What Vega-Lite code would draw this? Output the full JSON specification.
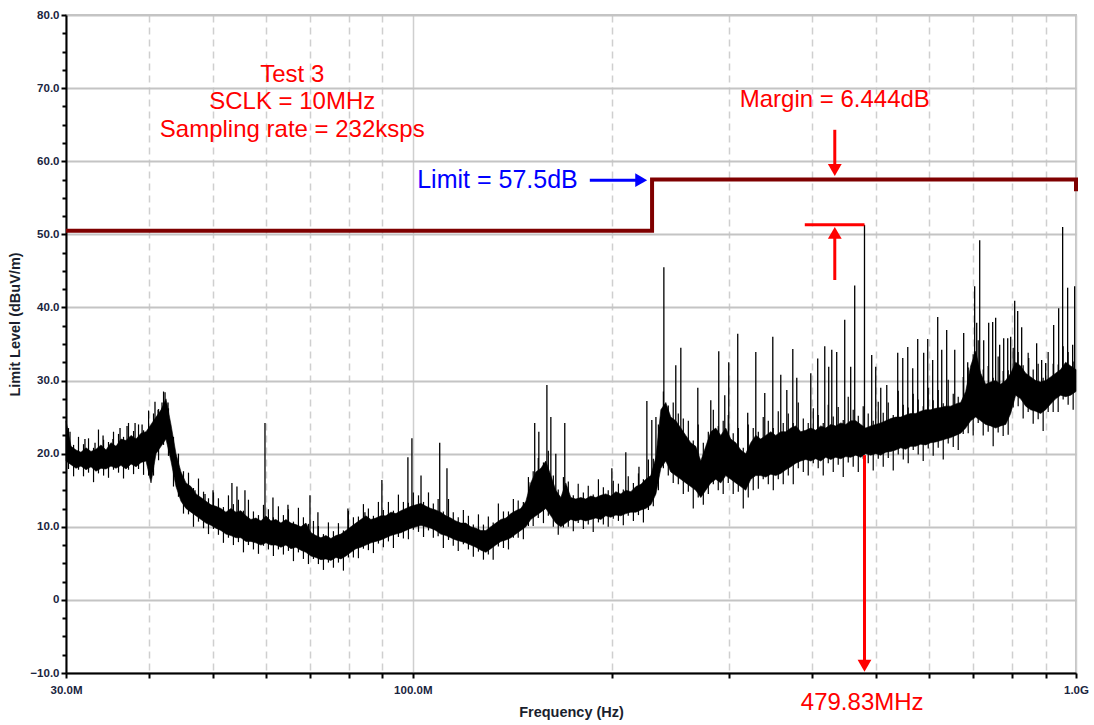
{
  "$schema": "https://vega.github.io/schema/vega-lite/v6.json",
  "width": 1010,
  "height": 658,
  "autosize": {"type": "none"},
  "padding": {"left": 66, "top": 15, "right": 18, "bottom": 52},
  "background": "#FFFFFF",
  "config": {
    "view": {"stroke": "#C4C4C4", "strokeWidth": 2},
    "font": "Liberation Sans"
  },
  "datasets": {
    "band": [
      {"f":30.00,"lo":19.0,"hi":24.5},{"f":30.53,"lo":18.5,"hi":21.0},{"f":31.06,"lo":18.0,"hi":20.5},{"f":31.60,"lo":18.3,"hi":20.2},{"f":32.16,"lo":17.8,"hi":20.8},
      {"f":32.72,"lo":18.2,"hi":20.3},{"f":33.29,"lo":17.6,"hi":20.6},{"f":33.88,"lo":18.0,"hi":21.2},{"f":34.47,"lo":17.9,"hi":20.5},{"f":35.07,"lo":18.3,"hi":21.5},
      {"f":35.69,"lo":18.0,"hi":21.0},{"f":36.31,"lo":18.4,"hi":22.0},{"f":36.95,"lo":17.9,"hi":21.8},{"f":37.60,"lo":18.6,"hi":22.5},{"f":38.26,"lo":18.2,"hi":22.0},
      {"f":38.93,"lo":18.8,"hi":22.8},{"f":39.61,"lo":19.0,"hi":23.0},{"f":40.30,"lo":16.0,"hi":24.0},{"f":41.01,"lo":20.0,"hi":25.0},{"f":41.73,"lo":21.0,"hi":26.0},
      {"f":42.45,"lo":22.0,"hi":27.5},{"f":43.19,"lo":19.0,"hi":24.0},{"f":43.95,"lo":15.5,"hi":20.0},{"f":44.72,"lo":13.5,"hi":17.5},{"f":45.50,"lo":12.5,"hi":16.0},
      {"f":46.30,"lo":12.0,"hi":15.5},{"f":47.11,"lo":11.5,"hi":14.5},{"f":47.94,"lo":11.0,"hi":14.0},{"f":48.77,"lo":10.5,"hi":13.5},{"f":49.63,"lo":10.2,"hi":13.0},
      {"f":50.49,"lo":9.8,"hi":12.8},{"f":51.37,"lo":9.5,"hi":12.5},{"f":52.27,"lo":9.0,"hi":12.0},{"f":53.19,"lo":8.8,"hi":12.5},{"f":54.12,"lo":8.5,"hi":12.0},
      {"f":55.07,"lo":8.5,"hi":12.2},{"f":56.03,"lo":8.0,"hi":11.5},{"f":57.01,"lo":8.0,"hi":11.0},{"f":58.01,"lo":7.8,"hi":11.2},{"f":59.03,"lo":7.5,"hi":10.8},
      {"f":60.06,"lo":7.8,"hi":11.5},{"f":61.11,"lo":7.5,"hi":10.8},{"f":62.18,"lo":7.5,"hi":11.0},{"f":63.27,"lo":7.2,"hi":10.5},{"f":64.38,"lo":7.5,"hi":11.0},
      {"f":65.51,"lo":7.0,"hi":10.5},{"f":66.65,"lo":7.2,"hi":10.3},{"f":67.82,"lo":6.8,"hi":10.0},{"f":69.01,"lo":6.5,"hi":10.5},{"f":70.22,"lo":6.0,"hi":9.2},
      {"f":71.44,"lo":5.8,"hi":8.8},{"f":72.69,"lo":5.5,"hi":8.5},{"f":73.96,"lo":5.6,"hi":8.8},{"f":75.26,"lo":5.4,"hi":8.4},{"f":76.58,"lo":5.8,"hi":8.8},
      {"f":77.92,"lo":5.6,"hi":9.0},{"f":79.28,"lo":6.0,"hi":9.5},{"f":80.67,"lo":6.5,"hi":10.0},{"f":82.08,"lo":7.0,"hi":10.5},{"f":83.52,"lo":7.2,"hi":11.0},
      {"f":84.98,"lo":7.5,"hi":11.5},{"f":86.47,"lo":7.8,"hi":11.0},{"f":87.98,"lo":8.0,"hi":11.2},{"f":89.52,"lo":8.2,"hi":11.5},{"f":91.09,"lo":8.5,"hi":11.5},
      {"f":92.69,"lo":8.8,"hi":12.0},{"f":94.31,"lo":9.0,"hi":11.8},{"f":95.96,"lo":9.2,"hi":12.2},{"f":97.64,"lo":9.5,"hi":12.5},{"f":99.35,"lo":9.8,"hi":12.8},
      {"f":101.1,"lo":10.0,"hi":13.0},{"f":102.9,"lo":10.2,"hi":13.2},{"f":104.7,"lo":10.0,"hi":12.8},{"f":106.5,"lo":9.8,"hi":12.5},{"f":108.3,"lo":9.5,"hi":12.3},
      {"f":110.2,"lo":9.0,"hi":12.0},{"f":112.2,"lo":8.8,"hi":11.5},{"f":114.1,"lo":8.5,"hi":11.2},{"f":116.1,"lo":8.2,"hi":10.8},{"f":118.2,"lo":8.0,"hi":10.5},
      {"f":120.2,"lo":7.8,"hi":10.5},{"f":122.3,"lo":7.5,"hi":10.0},{"f":124.5,"lo":7.2,"hi":9.8},{"f":126.7,"lo":6.8,"hi":9.5},{"f":128.9,"lo":6.5,"hi":9.5},
      {"f":131.1,"lo":7.0,"hi":10.0},{"f":133.4,"lo":7.5,"hi":10.5},{"f":135.8,"lo":8.0,"hi":11.0},{"f":138.2,"lo":8.2,"hi":11.2},{"f":140.6,"lo":8.5,"hi":11.8},
      {"f":143.0,"lo":9.0,"hi":12.2},{"f":145.5,"lo":9.5,"hi":12.5},{"f":148.1,"lo":10.0,"hi":13.5},{"f":150.6,"lo":11.0,"hi":16.0},{"f":153.3,"lo":11.5,"hi":17.5},
      {"f":156.0,"lo":12.0,"hi":18.0},{"f":158.7,"lo":12.5,"hi":19.0},{"f":161.5,"lo":11.5,"hi":17.0},{"f":164.3,"lo":10.5,"hi":15.0},{"f":167.2,"lo":10.0,"hi":14.0},
      {"f":170.1,"lo":10.5,"hi":16.0},{"f":173.1,"lo":11.0,"hi":14.0},{"f":176.1,"lo":10.8,"hi":13.8},{"f":179.2,"lo":11.0,"hi":14.0},{"f":182.3,"lo":10.8,"hi":13.8},
      {"f":185.5,"lo":11.0,"hi":14.2},{"f":188.8,"lo":11.2,"hi":14.0},{"f":192.1,"lo":11.0,"hi":14.3},{"f":195.4,"lo":11.5,"hi":14.5},{"f":198.9,"lo":11.3,"hi":14.2},
      {"f":202.4,"lo":11.6,"hi":14.8},{"f":205.9,"lo":11.5,"hi":14.5},{"f":209.5,"lo":11.8,"hi":15.0},{"f":213.2,"lo":12.0,"hi":14.8},{"f":217.0,"lo":12.0,"hi":15.5},
      {"f":220.8,"lo":12.3,"hi":15.8},{"f":224.6,"lo":12.5,"hi":16.5},{"f":228.5,"lo":13.0,"hi":17.0},{"f":232.6,"lo":14.5,"hi":19.5},{"f":236.6,"lo":18.0,"hi":26.0},
      {"f":240.7,"lo":19.0,"hi":27.0},{"f":244.9,"lo":17.5,"hi":25.0},{"f":249.2,"lo":17.0,"hi":24.5},{"f":253.6,"lo":16.5,"hi":23.5},{"f":258.0,"lo":16.0,"hi":22.5},
      {"f":262.5,"lo":15.5,"hi":21.5},{"f":267.1,"lo":15.0,"hi":21.0},{"f":271.8,"lo":14.0,"hi":19.0},{"f":276.6,"lo":15.0,"hi":21.0},{"f":281.4,"lo":16.0,"hi":23.0},
      {"f":286.3,"lo":16.5,"hi":23.5},{"f":291.3,"lo":16.0,"hi":22.5},{"f":296.4,"lo":17.0,"hi":23.5},{"f":301.6,"lo":16.5,"hi":22.0},{"f":306.9,"lo":16.0,"hi":21.5},
      {"f":312.3,"lo":15.5,"hi":20.5},{"f":317.7,"lo":15.0,"hi":20.0},{"f":323.3,"lo":16.5,"hi":21.5},{"f":329.0,"lo":17.0,"hi":22.5},{"f":334.7,"lo":17.0,"hi":22.0},
      {"f":340.6,"lo":16.8,"hi":22.5},{"f":346.6,"lo":17.2,"hi":23.0},{"f":352.6,"lo":17.0,"hi":22.5},{"f":358.8,"lo":17.3,"hi":23.0},{"f":365.1,"lo":17.8,"hi":23.0},
      {"f":371.5,"lo":18.2,"hi":23.5},{"f":378.0,"lo":18.7,"hi":23.8},{"f":384.6,"lo":19.0,"hi":23.0},{"f":391.3,"lo":19.2,"hi":23.2},{"f":398.2,"lo":19.0,"hi":23.5},
      {"f":405.1,"lo":19.3,"hi":23.2},{"f":412.2,"lo":19.0,"hi":23.8},{"f":419.4,"lo":19.5,"hi":23.5},{"f":426.8,"lo":19.2,"hi":24.0},{"f":434.2,"lo":19.5,"hi":23.8},
      {"f":441.8,"lo":19.3,"hi":24.2},{"f":449.6,"lo":19.6,"hi":24.0},{"f":457.4,"lo":19.5,"hi":24.5},{"f":465.5,"lo":19.8,"hi":24.5},{"f":473.6,"lo":19.5,"hi":24.0},
      {"f":481.9,"lo":20.0,"hi":23.5},{"f":490.3,"lo":19.8,"hi":23.8},{"f":498.9,"lo":20.0,"hi":24.0},{"f":507.7,"lo":19.8,"hi":24.2},{"f":516.6,"lo":20.2,"hi":24.5},
      {"f":525.6,"lo":20.3,"hi":24.8},{"f":534.8,"lo":20.5,"hi":25.0},{"f":544.2,"lo":20.8,"hi":25.0},{"f":553.7,"lo":20.6,"hi":25.3},{"f":563.4,"lo":21.0,"hi":25.5},
      {"f":573.2,"lo":21.0,"hi":25.5},{"f":583.2,"lo":21.3,"hi":25.8},{"f":593.5,"lo":21.2,"hi":26.0},{"f":603.8,"lo":21.5,"hi":26.0},{"f":614.4,"lo":21.6,"hi":26.2},
      {"f":625.2,"lo":21.8,"hi":26.3},{"f":636.1,"lo":22.0,"hi":26.5},{"f":647.3,"lo":22.2,"hi":26.5},{"f":658.6,"lo":22.5,"hi":26.8},{"f":670.1,"lo":22.8,"hi":27.0},
      {"f":681.8,"lo":23.5,"hi":28.5},{"f":693.7,"lo":24.5,"hi":32.0},{"f":705.9,"lo":25.0,"hi":34.0},{"f":718.3,"lo":24.5,"hi":31.0},{"f":730.8,"lo":24.0,"hi":29.5},
      {"f":743.6,"lo":23.8,"hi":29.8},{"f":756.6,"lo":23.5,"hi":30.0},{"f":769.9,"lo":23.8,"hi":29.5},{"f":783.4,"lo":24.0,"hi":30.0},{"f":797.1,"lo":25.5,"hi":31.0},
      {"f":811.0,"lo":28.0,"hi":32.5},{"f":825.2,"lo":27.5,"hi":32.0},{"f":839.7,"lo":26.5,"hi":31.0},{"f":854.4,"lo":26.0,"hi":30.5},{"f":869.3,"lo":25.8,"hi":30.0},
      {"f":884.5,"lo":25.5,"hi":29.8},{"f":900.0,"lo":26.0,"hi":30.0},{"f":915.8,"lo":26.8,"hi":30.5},{"f":931.8,"lo":27.5,"hi":31.0},{"f":948.1,"lo":28.0,"hi":31.5},
      {"f":964.7,"lo":27.8,"hi":32.5},{"f":981.6,"lo":28.0,"hi":32.0},{"f":1000,"lo":28.5,"hi":31.5}
    ],
    "fuzz": [
      {"f":30.26,"lo":17.9,"hi":23.5},{"f":30.80,"lo":16.9,"hi":21.2},{"f":31.33,"lo":17.8,"hi":22.3},{"f":31.88,"lo":16.9,"hi":21.3},{"f":32.44,"lo":17.4,"hi":22.1},
      {"f":33.01,"lo":16.1,"hi":20.8},{"f":33.58,"lo":17.3,"hi":23.3},{"f":34.18,"lo":17.0,"hi":21.9},{"f":34.77,"lo":16.7,"hi":21.6},{"f":35.38,"lo":17.8,"hi":23.0},
      {"f":36.00,"lo":17.4,"hi":22.7},{"f":36.63,"lo":16.6,"hi":22.3},{"f":37.27,"lo":17.8,"hi":24.2},{"f":37.93,"lo":17.2,"hi":23.1},{"f":38.59,"lo":17.9,"hi":24.0},
      {"f":39.27,"lo":17.1,"hi":23.2},{"f":39.96,"lo":17.0,"hi":25.9},{"f":40.65,"lo":17.0,"hi":25.5},{"f":41.37,"lo":19.1,"hi":26.1},{"f":42.09,"lo":21.2,"hi":28.5},
      {"f":42.82,"lo":19.7,"hi":26.2},{"f":43.57,"lo":15.5,"hi":22.3},{"f":44.33,"lo":14.1,"hi":20.0},{"f":45.11,"lo":11.8,"hi":17.6},{"f":45.90,"lo":11.7,"hi":17.4},
      {"f":46.70,"lo":10.0,"hi":15.3},{"f":47.52,"lo":10.7,"hi":16.6},{"f":48.36,"lo":9.8,"hi":14.8},{"f":49.20,"lo":9.0,"hi":13.9},{"f":50.06,"lo":9.7,"hi":14.7},
      {"f":50.93,"lo":8.9,"hi":13.9},{"f":51.82,"lo":7.8,"hi":12.7},{"f":52.73,"lo":8.5,"hi":14.3},{"f":53.65,"lo":7.5,"hi":13.1},{"f":54.59,"lo":7.9,"hi":13.7},
      {"f":55.55,"lo":6.5,"hi":12.2},{"f":56.52,"lo":7.5,"hi":13.7},{"f":57.51,"lo":6.9,"hi":12.1},{"f":58.52,"lo":6.3,"hi":11.6},{"f":59.55,"lo":7.4,"hi":13.0},
      {"f":60.58,"lo":6.9,"hi":12.4},{"f":61.64,"lo":6.0,"hi":11.3},{"f":62.72,"lo":6.9,"hi":12.8},{"f":63.82,"lo":6.2,"hi":11.6},{"f":64.94,"lo":6.7,"hi":12.4},
      {"f":66.08,"lo":5.3,"hi":10.7},{"f":67.23,"lo":6.5,"hi":12.6},{"f":68.41,"lo":5.6,"hi":11.3},{"f":69.61,"lo":4.9,"hi":10.4},{"f":70.83,"lo":5.6,"hi":10.8},
      {"f":72.06,"lo":4.9,"hi":10.1},{"f":73.33,"lo":4.1,"hi":9.0},{"f":74.61,"lo":5.1,"hi":10.6},{"f":75.92,"lo":4.4,"hi":9.4},{"f":77.25,"lo":5.1,"hi":10.5},
      {"f":78.60,"lo":4.0,"hi":9.5},{"f":79.97,"lo":5.8,"hi":12.2},{"f":81.37,"lo":5.8,"hi":11.3},{"f":82.80,"lo":5.7,"hi":11.4},{"f":84.25,"lo":7.0,"hi":13.1},
      {"f":85.72,"lo":6.8,"hi":12.5},{"f":87.23,"lo":6.4,"hi":11.5},{"f":88.75,"lo":7.7,"hi":13.4},{"f":90.30,"lo":7.2,"hi":12.3},{"f":91.89,"lo":8.0,"hi":13.4},
      {"f":93.50,"lo":7.1,"hi":12.2},{"f":95.13,"lo":8.6,"hi":14.4},{"f":96.80,"lo":8.4,"hi":13.4},{"f":98.49,"lo":8.3,"hi":13.3},{"f":100.2,"lo":9.6,"hi":14.7},
      {"f":102.0,"lo":9.3,"hi":14.3},{"f":103.8,"lo":8.6,"hi":13.4},{"f":105.6,"lo":9.5,"hi":14.7},{"f":107.4,"lo":8.5,"hi":13.2},{"f":109.2,"lo":8.7,"hi":13.8},
      {"f":111.2,"lo":7.1,"hi":12.1},{"f":113.2,"lo":8.2,"hi":13.8},{"f":115.1,"lo":7.4,"hi":12.0},{"f":117.1,"lo":6.7,"hi":11.3},{"f":119.2,"lo":7.6,"hi":12.3},
      {"f":121.3,"lo":6.9,"hi":11.5},{"f":123.4,"lo":5.9,"hi":10.3},{"f":125.6,"lo":6.6,"hi":11.7},{"f":127.8,"lo":5.5,"hi":10.3},{"f":130.0,"lo":6.2,"hi":11.4},
      {"f":132.2,"lo":5.5,"hi":10.6},{"f":134.6,"lo":7.3,"hi":13.2},{"f":137.0,"lo":7.1,"hi":12.1},{"f":139.4,"lo":6.9,"hi":12.1},{"f":141.8,"lo":8.5,"hi":13.8},
      {"f":144.2,"lo":8.5,"hi":13.6},{"f":146.8,"lo":8.3,"hi":13.4},{"f":149.4,"lo":10.1,"hi":16.8},{"f":151.9,"lo":10.1,"hi":17.6},{"f":154.6,"lo":11.2,"hi":19.4},
      {"f":157.4,"lo":10.5,"hi":18.8},{"f":160.1,"lo":11.5,"hi":20.4},{"f":162.9,"lo":10.0,"hi":17.0},{"f":165.7,"lo":8.9,"hi":15.1},{"f":168.7,"lo":9.9,"hi":16.8},
      {"f":171.6,"lo":10.0,"hi":16.2},{"f":174.6,"lo":9.4,"hi":14.3},{"f":177.6,"lo":10.5,"hi":15.9},{"f":180.8,"lo":9.7,"hi":14.7},{"f":183.9,"lo":10.3,"hi":15.6},
      {"f":187.1,"lo":9.3,"hi":14.4},{"f":190.5,"lo":10.6,"hi":16.5},{"f":193.8,"lo":10.3,"hi":15.4},{"f":197.1,"lo":10.0,"hi":15.0},{"f":200.6,"lo":11.1,"hi":16.3},
      {"f":204.2,"lo":10.8,"hi":15.9},{"f":207.7,"lo":10.2,"hi":15.1},{"f":211.3,"lo":11.5,"hi":16.9},{"f":215.1,"lo":10.8,"hi":16.0},{"f":218.9,"lo":11.6,"hi":17.3},
      {"f":222.7,"lo":10.6,"hi":16.5},{"f":226.6,"lo":12.3,"hi":19.2},{"f":230.5,"lo":12.8,"hi":19.3},{"f":234.6,"lo":15.0,"hi":24.0},{"f":238.7,"lo":18.0,"hi":28.5},
      {"f":242.8,"lo":17.0,"hi":26.6},{"f":247.0,"lo":16.0,"hi":27.0},{"f":251.4,"lo":15.8,"hi":25.5},{"f":255.8,"lo":14.5,"hi":24.8},{"f":260.3,"lo":14.8,"hi":24.5},
      {"f":264.8,"lo":12.5,"hi":21.8},{"f":269.4,"lo":14.0,"hi":24.0},{"f":274.2,"lo":13.0,"hi":21.5},{"f":279.0,"lo":14.5,"hi":23.0},{"f":283.9,"lo":15.8,"hi":26.0},
      {"f":288.8,"lo":15.0,"hi":23.8},{"f":293.8,"lo":14.5,"hi":24.5},{"f":299.0,"lo":16.0,"hi":25.3},{"f":304.2,"lo":14.5,"hi":22.8},{"f":309.6,"lo":14.8,"hi":23.5},
      {"f":315.0,"lo":12.5,"hi":20.8},{"f":320.5,"lo":14.0,"hi":24.0},{"f":326.1,"lo":15.0,"hi":23.5},{"f":331.9,"lo":15.2,"hi":23.0},{"f":337.6,"lo":16.5,"hi":25.0},
      {"f":343.6,"lo":15.8,"hi":24.5},{"f":349.6,"lo":15.0,"hi":23.5},{"f":355.7,"lo":16.5,"hi":25.8},{"f":361.9,"lo":15.8,"hi":24.2},{"f":368.3,"lo":17.0,"hi":25.5},
      {"f":374.7,"lo":15.8,"hi":24.2},{"f":381.3,"lo":18.0,"hi":27.0},{"f":388.0,"lo":17.5,"hi":24.8},{"f":394.7,"lo":17.0,"hi":24.2},{"f":401.7,"lo":18.7,"hi":26.2},
      {"f":408.6,"lo":18.0,"hi":25.3},{"f":415.8,"lo":17.0,"hi":24.2},{"f":423.1,"lo":18.7,"hi":26.7},{"f":430.5,"lo":17.5,"hi":25.1},{"f":438.0,"lo":18.5,"hi":26.4},
      {"f":445.7,"lo":16.8,"hi":24.6},{"f":453.5,"lo":18.8,"hi":27.8},{"f":461.4,"lo":18.2,"hi":26.0},{"f":469.6,"lo":17.5,"hi":25.2},{"f":477.7,"lo":19.3,"hi":26.5},
      {"f":486.1,"lo":18.7,"hi":25.5},{"f":494.6,"lo":17.7,"hi":24.5},{"f":503.3,"lo":19.3,"hi":27.1},{"f":512.1,"lo":18.2,"hi":25.6},{"f":521.1,"lo":19.4,"hi":27.0},
      {"f":530.2,"lo":17.7,"hi":25.3},{"f":539.5,"lo":19.9,"hi":28.6},{"f":549.0,"lo":19.2,"hi":26.7},{"f":558.5,"lo":18.7,"hi":26.3},{"f":568.3,"lo":20.5,"hi":28.2},
      {"f":578.2,"lo":19.9,"hi":27.4},{"f":588.3,"lo":19.0,"hi":26.5},{"f":598.7,"lo":20.7,"hi":29.0},{"f":609.1,"lo":19.7,"hi":27.3},{"f":619.8,"lo":20.8,"hi":28.7},
      {"f":630.7,"lo":19.2,"hi":26.9},{"f":641.7,"lo":21.4,"hi":30.1},{"f":653.0,"lo":20.9,"hi":28.2},{"f":664.4,"lo":20.5,"hi":27.8},{"f":676.0,"lo":22.7,"hi":30.5},
      {"f":687.8,"lo":22.8,"hi":31.8},{"f":699.8,"lo":22.5,"hi":33.6},{"f":712.1,"lo":24.2,"hi":35.5},{"f":724.6,"lo":22.5,"hi":31.5},{"f":737.2,"lo":23.0,"hi":32.0},
      {"f":750.1,"lo":21.0,"hi":30.4},{"f":763.2,"lo":22.9,"hi":33.3},{"f":776.6,"lo":22.4,"hi":31.3},{"f":790.2,"lo":22.6,"hi":31.4},{"f":804.1,"lo":26.3,"hi":34.5},
      {"f":818.1,"lo":26.5,"hi":33.9},{"f":832.4,"lo":24.8,"hi":32.1},{"f":847.0,"lo":25.7,"hi":33.8},{"f":861.9,"lo":24.1,"hi":31.5},{"f":876.9,"lo":24.7,"hi":32.3},
      {"f":892.2,"lo":23.1,"hi":30.4},{"f":907.9,"lo":25.7,"hi":33.9},{"f":923.8,"lo":25.7,"hi":32.3},{"f":940.0,"lo":25.7,"hi":32.2},{"f":956.4,"lo":27.4,"hi":34.7},
      {"f":973.1,"lo":26.7,"hi":33.9},{"f":990.2,"lo":26.0,"hi":32.6}
    ],
    "spikes": [
      {"f":30.42,"base":19,"peak":23.0},{"f":32.04,"base":19,"peak":22.0},{"f":33.18,"base":19,"peak":21.5},{"f":34.12,"base":19,"peak":22.5},
      {"f":35.31,"base":19.5,"peak":22.0},{"f":36.19,"base":19.5,"peak":23.5},{"f":37.08,"base":19.5,"peak":23.8},{"f":38.13,"base":20,"peak":24.2},
      {"f":39.07,"base":20,"peak":24.0},{"f":40.86,"base":21,"peak":27.1},{"f":41.30,"base":22,"peak":26.0},{"f":41.87,"base":23,"peak":27.0},
      {"f":42.31,"base":24,"peak":28.4},{"f":42.75,"base":24,"peak":27.0},{"f":45.82,"base":13,"peak":15.3},{"f":46.95,"base":12.5,"peak":15.0},
      {"f":48.61,"base":12,"peak":14.5},{"f":49.98,"base":11,"peak":15.0},{"f":53.37,"base":10,"peak":16.0},{"f":54.31,"base":10,"peak":15.5},
      {"f":55.84,"base":10,"peak":15.0},{"f":59.86,"base":9,"peak":24.2},{"f":61.54,"base":9,"peak":14.0},{"f":64.83,"base":9,"peak":13.0},
      {"f":69.98,"base":8.5,"peak":14.3},{"f":71.94,"base":7,"peak":12.0},{"f":79.83,"base":7.5,"peak":12.5},{"f":84.69,"base":9,"peak":12.0},
      {"f":89.83,"base":10,"peak":16.4},{"f":98.32,"base":11,"peak":19.5},{"f":99.70,"base":11,"peak":22.1},{"f":102.9,"base":11.5,"peak":17.0},
      {"f":109.8,"base":11,"peak":21.5},{"f":112.6,"base":10.5,"peak":18.0},{"f":149.6,"base":12,"peak":16.1},{"f":152.7,"base":14,"peak":24.2},
      {"f":154.9,"base":15,"peak":23.0},{"f":159.3,"base":16,"peak":29.4},{"f":161.5,"base":15,"peak":25.0},{"f":164.3,"base":13,"peak":20.0},
      {"f":169.5,"base":13,"peak":24.2},{"f":199.6,"base":13,"peak":18.0},{"f":209.5,"base":13.5,"peak":20.2},{"f":219.3,"base":14,"peak":18.2},
      {"f":225.4,"base":15,"peak":27.2},{"f":229.3,"base":15.5,"peak":24.6},{"f":232.6,"base":17,"peak":25.0},{"f":239.1,"base":23,"peak":45.5},
      {"f":249.2,"base":21,"peak":32.1},{"f":253.6,"base":21,"peak":34.5},{"f":269.0,"base":19,"peak":29.0},{"f":281.4,"base":20,"peak":27.3},
      {"f":289.3,"base":20,"peak":34.0},{"f":295.4,"base":20,"peak":28.0},{"f":299.5,"base":20,"peak":32.5},{"f":309.0,"base":19,"peak":36.4},
      {"f":319.9,"base":18,"peak":25.6},{"f":329.0,"base":20,"peak":33.9},{"f":339.4,"base":20,"peak":28.3},{"f":349.0,"base":20,"peak":36.0},
      {"f":358.8,"base":21,"peak":30.8},{"f":366.4,"base":21,"peak":28.7},{"f":374.1,"base":22,"peak":34.3},{"f":379.3,"base":22,"peak":30.4},
      {"f":398.2,"base":22,"peak":31.0},{"f":407.9,"base":22,"peak":33.0},{"f":418.0,"base":22,"peak":34.7},{"f":423.8,"base":22,"peak":31.9},
      {"f":428.3,"base":22,"peak":34.2},{"f":435.7,"base":22,"peak":33.9},{"f":448.0,"base":22.5,"peak":38.3},{"f":457.4,"base":22.5,"peak":31.9},
      {"f":463.8,"base":22.5,"peak":43.0},{"f":479.83,"base":22,"peak":51.3},{"f":492.0,"base":22,"peak":33.5},{"f":498.9,"base":22,"peak":31.9},
      {"f":507.7,"base":22,"peak":29.0},{"f":518.4,"base":22.5,"peak":29.4},{"f":538.5,"base":23,"peak":33.8},{"f":548.0,"base":23,"peak":33.1},
      {"f":557.6,"base":23,"peak":34.6},{"f":567.3,"base":23.5,"peak":31.7},{"f":577.2,"base":23.5,"peak":35.7},{"f":589.3,"base":23.5,"peak":33.8},
      {"f":597.6,"base":24,"peak":35.7},{"f":608.0,"base":24,"peak":32.8},{"f":618.7,"base":24,"peak":38.7},{"f":627.4,"base":24,"peak":34.2},
      {"f":638.3,"base":24.5,"peak":36.9},{"f":656.4,"base":24.5,"peak":34.2},{"f":677.1,"base":25,"peak":36.5},{"f":686.6,"base":26,"peak":32.5},
      {"f":703.4,"base":28,"peak":42.9},{"f":708.4,"base":28,"peak":37.9},{"f":715.8,"base":28,"peak":49.2},{"f":725.8,"base":27,"peak":35.5},
      {"f":738.5,"base":27,"peak":37.9},{"f":748.8,"base":27,"peak":38.0},{"f":756.6,"base":27,"peak":38.6},{"f":767.2,"base":27,"peak":34.9},
      {"f":778.0,"base":27,"peak":35.8},{"f":788.9,"base":27,"peak":35.8},{"f":797.1,"base":28,"peak":36.0},{"f":808.3,"base":30,"peak":40.9},
      {"f":816.7,"base":30,"peak":39.5},{"f":828.1,"base":29,"peak":37.3},{"f":848.5,"base":28.5,"peak":33.1},{"f":872.3,"base":28,"peak":35.1},
      {"f":887.6,"base":28,"peak":32.8},{"f":900.0,"base":28,"peak":32.4},{"f":925.4,"base":29,"peak":37.6},{"f":941.6,"base":29,"peak":39.9},
      {"f":954.7,"base":29.5,"peak":51.0},{"f":971.4,"base":30,"peak":42.7},{"f":988.4,"base":30,"peak":34.9},{"f":995.3,"base":30,"peak":42.9}
    ],
    "limit": [
      {"i":0,"f":30,"v":50.5},{"i":1,"f":229.5,"v":50.5},{"i":2,"f":229.5,"v":57.5},{"i":3,"f":1000,"v":57.5},{"i":4,"f":1000,"v":55.9}
    ]
  },
  "layer": [
    {
      "data": {"name": "band"},
      "mark": {"type": "area", "color": "#000000", "stroke": "#000000", "strokeWidth": 0.6, "interpolate": "linear"},
      "encoding": {
        "x": {
          "field": "f", "type": "quantitative",
          "scale": {"type": "log", "domain": [30, 1000], "nice": false},
          "axis": {
            "values": [30,40,50,60,70,80,90,100,200,300,400,500,600,700,800,900,1000],
            "labelExpr": "datum.value == 30 ? '30.0M' : datum.value == 100 ? '100.0M' : datum.value == 1000 ? '1.0G' : ''",
            "labelOverlap": false, "labelFlush": false, "labelBound": false,
            "labelFont": "Liberation Sans", "labelFontWeight": "bold", "labelFontSize": 11.5, "labelColor": "#1a2540", "labelPadding": 6,
            "domainColor": "#000000", "domainWidth": 2,
            "tickColor": "#000000", "tickWidth": 2, "tickSize": 5,
            "grid": true, "gridColor": "#CFCFCF", "gridWidth": 1.5,
            "gridDash": {"condition": {"test": "datum.value == 100 || datum.value == 30 || datum.value == 1000", "value": []}, "value": [7, 5]},
            "title": "Frequency (Hz)", "titleFont": "Liberation Sans", "titleFontWeight": "bold", "titleFontSize": 14.5, "titleColor": "#1a1f2e",
            "titleY": 39, "titleBaseline": "middle"
          }
        },
        "y": {
          "field": "lo", "type": "quantitative",
          "scale": {"domain": [-10, 80], "nice": false, "zero": false},
          "axis": {
            "values": [-10,0,10,20,30,40,50,60,70,80],
            "orient": "left",
            "labelExpr": "datum.value == 0 ? '0' : format(datum.value, '.1f')",
            "labelFont": "Liberation Sans", "labelFontWeight": "bold", "labelFontSize": 11.5, "labelColor": "#1a2540", "labelPadding": 2,
            "domainColor": "#000000", "domainWidth": 2,
            "tickColor": "#000000", "tickWidth": 2, "tickSize": 5,
            "grid": true, "gridColor": "#C4C4C4", "gridWidth": 2,
            "title": "Limit Level (dBuV/m)", "titleFont": "Liberation Sans", "titleFontWeight": "bold", "titleFontSize": 14.5, "titleColor": "#1a1f2e",
            "titleX": -51, "titleY": 309, "titleBaseline": "middle", "titleAlign": "center", "titleAngle": -90
          }
        },
        "y2": {"field": "hi"}
      }
    },
    {
      "data": {"name": "fuzz"},
      "mark": {"type": "rule", "color": "#000000", "strokeWidth": 1.2},
      "encoding": {
        "x": {"field": "f", "type": "quantitative"},
        "y": {"field": "lo", "type": "quantitative", "axis": null},
        "y2": {"field": "hi"}
      }
    },
    {
      "data": {"name": "spikes"},
      "mark": {"type": "rule", "color": "#000000", "strokeWidth": 1.3},
      "encoding": {
        "x": {"field": "f", "type": "quantitative"},
        "y": {"field": "base", "type": "quantitative",
          "axis": {"values": [-7.5,-5,-2.5,2.5,5,7.5,12.5,15,17.5,22.5,25,27.5,32.5,35,37.5,42.5,45,47.5,52.5,55,57.5,62.5,65,67.5,72.5,75,77.5],
            "orient": "left", "labels": false, "grid": false, "domain": false, "title": null,
            "tickColor": "#000000", "tickWidth": 2, "tickSize": 4}},
        "y2": {"field": "peak"}
      }
    },
    {
      "data": {"name": "limit"},
      "mark": {"type": "line", "color": "#7F0000", "strokeWidth": 4, "strokeJoin": "miter"},
      "encoding": {
        "x": {"field": "f", "type": "quantitative"},
        "y": {"field": "v", "type": "quantitative", "axis": null},
        "order": {"field": "i", "type": "quantitative"}
      }
    },
    {
      "data": {"values": [
        {"kind": "limit", "f": 184.9, "f2": 222, "v": 57.4, "v2": 57.4},
        {"kind": "margin", "f": 432.8, "f2": 432.8, "v": 64.3, "v2": 59.5},
        {"kind": "margin", "f": 390.0, "f2": 479.83, "v": 51.3, "v2": 51.3},
        {"kind": "margin", "f": 432.8, "f2": 432.8, "v": 43.75, "v2": 49.5},
        {"kind": "margin", "f": 479.83, "f2": 479.83, "v": 19.8, "v2": -8.5}
      ]},
      "mark": {"type": "rule", "strokeWidth": 3},
      "encoding": {
        "x": {"field": "f", "type": "quantitative"},
        "x2": {"field": "f2"},
        "y": {"field": "v", "type": "quantitative", "axis": null},
        "y2": {"field": "v2"},
        "color": {"field": "kind", "type": "nominal", "scale": {"domain": ["limit", "margin"], "range": ["#0000FF", "#FF0000"]}, "legend": null}
      }
    },
    {
      "data": {"values": [
        {"kind": "limit", "dir": "right", "f": 221, "v": 57.4},
        {"kind": "margin", "dir": "down", "f": 432.8, "v": 58.8},
        {"kind": "margin", "dir": "up", "f": 432.8, "v": 50.2},
        {"kind": "margin", "dir": "down", "f": 479.83, "v": -9.0}
      ]},
      "mark": {"type": "point", "filled": true, "size": 190, "opacity": 1},
      "encoding": {
        "x": {"field": "f", "type": "quantitative"},
        "y": {"field": "v", "type": "quantitative", "axis": null},
        "shape": {"field": "dir", "type": "nominal", "scale": {"domain": ["right", "down", "up"], "range": ["triangle-right", "triangle-down", "triangle-up"]}, "legend": null},
        "color": {"field": "kind", "type": "nominal", "scale": {"domain": ["limit", "margin"], "range": ["#0000FF", "#FF0000"]}, "legend": null}
      }
    },
    {
      "data": {"values": [
        {"kind": "margin", "f": 65.8, "v": 71.8, "label": "Test 3"},
        {"kind": "margin", "f": 65.8, "v": 68.1, "label": "SCLK = 10MHz"},
        {"kind": "margin", "f": 65.8, "v": 64.3, "label": "Sampling rate = 232ksps"},
        {"kind": "margin", "f": 432.8, "v": 68.4, "label": "Margin = 6.444dB"},
        {"kind": "margin", "f": 476, "v": -14.1, "label": "479.83MHz"}
      ]},
      "mark": {"type": "text", "font": "Liberation Sans", "fontSize": 24, "align": "center", "baseline": "middle", "clip": false},
      "encoding": {
        "x": {"field": "f", "type": "quantitative"},
        "y": {"field": "v", "type": "quantitative", "axis": null},
        "text": {"field": "label"},
        "color": {"field": "kind", "type": "nominal", "scale": {"domain": ["limit", "margin"], "range": ["#0000FF", "#FF0000"]}, "legend": null}
      }
    },
    {
      "data": {"values": [
        {"kind": "limit", "f": 177.3, "v": 57.4, "label": "Limit = 57.5dB"}
      ]},
      "mark": {"type": "text", "font": "Liberation Sans", "fontSize": 25, "align": "right", "baseline": "middle"},
      "encoding": {
        "x": {"field": "f", "type": "quantitative"},
        "y": {"field": "v", "type": "quantitative", "axis": null},
        "text": {"field": "label"},
        "color": {"field": "kind", "type": "nominal", "scale": {"domain": ["limit", "margin"], "range": ["#0000FF", "#FF0000"]}, "legend": null}
      }
    }
  ],
  "resolve": {"axis": {"y": "independent"}}
}
